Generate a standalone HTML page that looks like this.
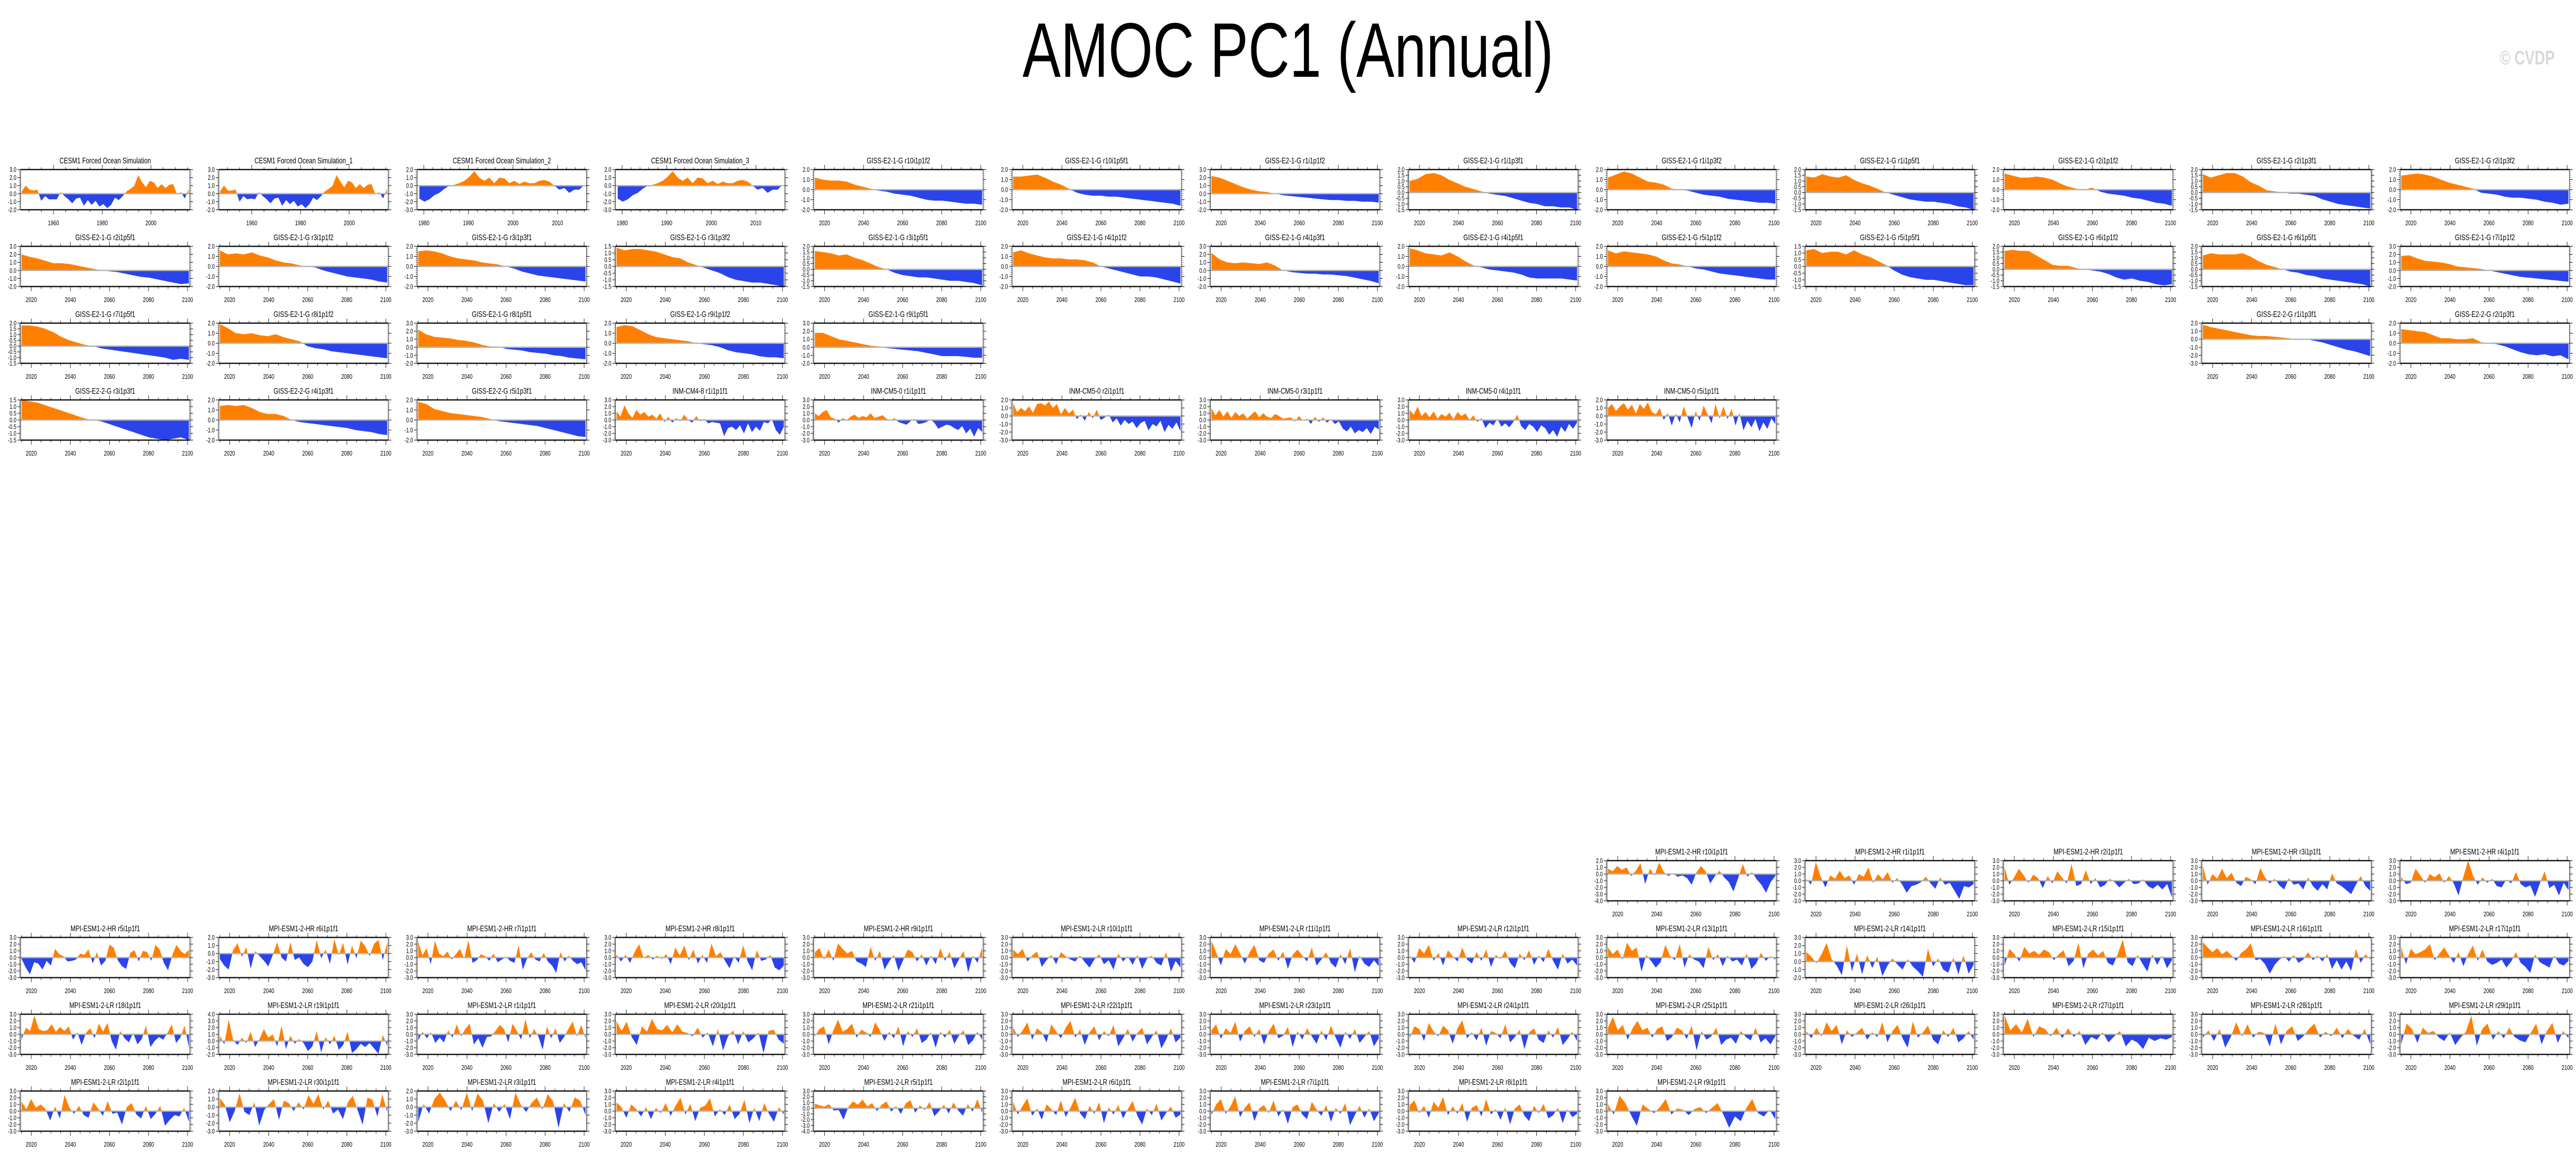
<!DOCTYPE html>
<html><head><meta charset="utf-8"><meta name="viewport" content="width=6755"><title>AMOC PC1 (Annual)</title>
<style>
html,body{margin:0;padding:0;background:#fff;overflow:hidden;}
body{font-family:"Liberation Sans",sans-serif;}
#frame{position:absolute;left:0;top:0;width:6755px;height:2247px;overflow:hidden;transform-origin:0 0;}
#main-title{position:absolute;left:0;width:6755px;top:22px;text-align:center;font-size:150px;line-height:150px;color:#000;margin:0;font-weight:normal;}
#credit{position:absolute;left:6555px;top:92px;width:190px;font-size:38px;font-weight:bold;color:#d8d8d8;white-space:nowrap;}
#chart{position:absolute;left:0;top:0;display:block;}
</style></head>
<body>
<div id="frame">
<h1 id="main-title">AMOC PC1 (Annual)</h1>
<div id="credit">© CVDP</div>
<svg id="chart" width="6755" height="2247" viewBox="0 0 6755 2247" overflow="hidden"></svg>
</div>
<script>
// ---- panel data ----
const titles = [
"CESM1 Forced Ocean Simulation","CESM1 Forced Ocean Simulation_1","CESM1 Forced Ocean Simulation_2","CESM1 Forced Ocean Simulation_3",
"GISS-E2-1-G r10i1p1f2","GISS-E2-1-G r10i1p5f1","GISS-E2-1-G r1i1p1f2","GISS-E2-1-G r1i1p3f1","GISS-E2-1-G r1i1p3f2","GISS-E2-1-G r1i1p5f1","GISS-E2-1-G r2i1p1f2","GISS-E2-1-G r2i1p3f1","GISS-E2-1-G r2i1p3f2",
"GISS-E2-1-G r2i1p5f1","GISS-E2-1-G r3i1p1f2","GISS-E2-1-G r3i1p3f1","GISS-E2-1-G r3i1p3f2","GISS-E2-1-G r3i1p5f1","GISS-E2-1-G r4i1p1f2","GISS-E2-1-G r4i1p3f1","GISS-E2-1-G r4i1p5f1","GISS-E2-1-G r5i1p1f2","GISS-E2-1-G r5i1p5f1","GISS-E2-1-G r6i1p1f2","GISS-E2-1-G r6i1p5f1","GISS-E2-1-G r7i1p1f2",
"GISS-E2-1-G r7i1p5f1","GISS-E2-1-G r8i1p1f2","GISS-E2-1-G r8i1p5f1","GISS-E2-1-G r9i1p1f2","GISS-E2-1-G r9i1p5f1","GISS-E2-2-G r1i1p3f1","GISS-E2-2-G r2i1p3f1",
"GISS-E2-2-G r3i1p3f1","GISS-E2-2-G r4i1p3f1","GISS-E2-2-G r5i1p3f1","INM-CM4-8 r1i1p1f1","INM-CM5-0 r1i1p1f1","INM-CM5-0 r2i1p1f1","INM-CM5-0 r3i1p1f1","INM-CM5-0 r4i1p1f1","INM-CM5-0 r5i1p1f1",
"MPI-ESM1-2-HR r10i1p1f1","MPI-ESM1-2-HR r1i1p1f1","MPI-ESM1-2-HR r2i1p1f1","MPI-ESM1-2-HR r3i1p1f1","MPI-ESM1-2-HR r4i1p1f1",
"MPI-ESM1-2-HR r5i1p1f1","MPI-ESM1-2-HR r6i1p1f1","MPI-ESM1-2-HR r7i1p1f1","MPI-ESM1-2-HR r8i1p1f1","MPI-ESM1-2-HR r9i1p1f1","MPI-ESM1-2-LR r10i1p1f1","MPI-ESM1-2-LR r11i1p1f1","MPI-ESM1-2-LR r12i1p1f1","MPI-ESM1-2-LR r13i1p1f1","MPI-ESM1-2-LR r14i1p1f1","MPI-ESM1-2-LR r15i1p1f1","MPI-ESM1-2-LR r16i1p1f1","MPI-ESM1-2-LR r17i1p1f1",
"MPI-ESM1-2-LR r18i1p1f1","MPI-ESM1-2-LR r19i1p1f1","MPI-ESM1-2-LR r1i1p1f1","MPI-ESM1-2-LR r20i1p1f1","MPI-ESM1-2-LR r21i1p1f1","MPI-ESM1-2-LR r22i1p1f1","MPI-ESM1-2-LR r23i1p1f1","MPI-ESM1-2-LR r24i1p1f1","MPI-ESM1-2-LR r25i1p1f1","MPI-ESM1-2-LR r26i1p1f1","MPI-ESM1-2-LR r27i1p1f1","MPI-ESM1-2-LR r28i1p1f1","MPI-ESM1-2-LR r29i1p1f1",
"MPI-ESM1-2-LR r2i1p1f1","MPI-ESM1-2-LR r30i1p1f1","MPI-ESM1-2-LR r3i1p1f1","MPI-ESM1-2-LR r4i1p1f1","MPI-ESM1-2-LR r5i1p1f1","MPI-ESM1-2-LR r6i1p1f1","MPI-ESM1-2-LR r7i1p1f1","MPI-ESM1-2-LR r8i1p1f1","MPI-ESM1-2-LR r9i1p1f1"
];
const gridCols = [0,1,2,3,4,5,6,7,8,9,10,11,12, 0,1,2,3,4,5,6,7,8,9,10,11,12, 0,1,2,3,4,11,12, 0,1,2,3,4,5,6,7,8,
 8,9,10,11,12, 0,1,2,3,4,5,6,7,8,9,10,11,12, 0,1,2,3,4,5,6,7,8,9,10,11,12, 0,1,2,3,4,5,6,7,8];
const gridRows = [0,0,0,0,0,0,0,0,0,0,0,0,0, 1,1,1,1,1,1,1,1,1,1,1,1,1, 2,2,2,2,2,2,2, 3,3,3,3,3,3,3,3,3,
 9,9,9,9,9, 10,10,10,10,10,10,10,10,10,10,10,10,10, 11,11,11,11,11,11,11,11,11,11,11,11,11, 12,12,12,12,12,12,12,12,12];
const yMin = [-2,-2,-3,-3, -2,-2,-2,-1.5,-2,-1.5,-2,-1.5,-2, -2,-2,-2,-1.5,-1.5,-2,-2,-2,-2,-1.5,-1.5,-1.5,-2, -1.5,-2,-2,-2,-2,-3,-2, -1.5,-2,-2,-3,-3,-3,-3,-3,-3,
 -4,-3,-3,-3,-3, -3,-3,-3,-3,-3,-3,-3,-3,-3,-2,-3,-3,-3, -3,-2,-3,-3,-3,-3,-3,-3,-3,-3,-3,-3,-3, -3,-3,-3,-3,-4,-3,-3,-3,-3];
const yMax = [3,3,2,2, 2,2,3,2,2,2,2,2,2, 3,2,2,1.5,2,2,3,2,2,1.5,2,2,3, 2,2,3,2,3,2,2, 1.5,2,2,3,3,2,3,3,2,
 2,3,3,3,3, 3,2,3,3,3,3,3,3,3,3,3,3,3, 3,4,3,3,3,3,3,3,3,3,3,3,3, 3,2,2,3,3,3,3,3,3];
const yStep = [1,1,1,1, 1,1,1,0.5,1,0.5,1,0.5,1, 1,1,1,0.5,0.5,1,1,1,1,0.5,0.5,0.5,1, 0.5,1,1,1,1,1,1, 0.5,1,1,1,1,1,1,1,1,
 1,1,1,1,1, 1,1,1,1,1,1,1,1,1,1,1,1,1, 1,1,1,1,1,1,1,1,1,1,1,1,1, 1,1,1,1,1,1,1,1,1];
const startYear = [1946.5,1946.5,1978.5,1978.5];
const endYear = [2016,2016,2016.5,2016.5];
const defaultStart = 2014.5, defaultEnd = 2101.2;
const yearTicksCESM = [1960,1980,2000];
const yearTicksCESM2 = [1980,1990,2000,2010];
const yearTicksScen = [2020,2040,2060,2080,2100];
const values = [
[0.3,1.0,0.5,0.4,0.5,-0.9,-0.3,-0.7,-0.7,-0.7,0.2,-0.3,-0.7,-1.2,-0.6,-0.5,-1.5,-0.8,-1.4,-0.9,-1.6,-1.3,-1.8,-1.4,-0.5,-0.8,-0.3,0.3,0.6,1.0,2.3,1.4,0.8,1.6,1.4,0.7,1.2,0.7,1.1,1.2,-0.1,0.2,-0.6,0.6],
[0.3,1.0,0.4,0.4,0.5,-1.0,-0.3,-0.7,-0.6,-0.7,0.2,-0.3,-0.7,-1.2,-0.6,-0.5,-1.5,-0.8,-1.3,-0.9,-1.6,-1.3,-1.8,-1.3,-0.5,-0.8,-0.3,0.3,0.6,1.0,2.3,1.5,0.8,1.6,1.4,0.7,1.2,0.7,1.1,1.2,-0.1,0.2,-0.6,0.6],
[-1.6,-2.0,-1.7,-1.2,-0.9,-0.4,0.0,0.1,0.3,0.6,1.1,1.8,1.0,0.6,1.0,0.3,1.0,0.9,0.3,0.6,0.2,0.5,0.3,0.3,0.6,0.7,0.5,0.0,-0.5,-0.3,-0.9,-0.5,-0.5,0.1],
[-1.6,-2.0,-1.7,-1.2,-0.9,-0.4,0.0,0.1,0.3,0.6,1.1,1.8,1.0,0.6,1.0,0.3,1.0,0.9,0.3,0.6,0.2,0.5,0.3,0.3,0.6,0.7,0.5,0.0,-0.5,-0.3,-0.9,-0.5,-0.5,0.1],
[1.2,1.0,0.9,0.9,0.8,0.5,0.3,0.1,-0.1,-0.2,-0.4,-0.5,-0.6,-0.8,-1.0,-1.1,-1.1,-1.2,-1.3,-1.4,-1.4,-1.5],
[1.3,1.3,1.4,1.5,1.2,0.8,0.5,0.1,-0.3,-0.5,-0.6,-0.6,-0.7,-0.7,-0.8,-0.9,-1.0,-1.1,-1.2,-1.3,-1.4,-1.6],
[2.2,2.0,1.6,1.2,0.8,0.5,0.3,0.2,0.0,-0.2,-0.3,-0.4,-0.5,-0.6,-0.7,-0.8,-0.8,-0.9,-0.9,-1.0,-1.0,-1.1],
[1.0,1.2,1.6,1.7,1.5,1.1,0.8,0.5,0.3,0.1,-0.1,-0.2,-0.3,-0.5,-0.7,-0.9,-1.0,-1.2,-1.2,-1.3,-1.3,-1.5],
[1.2,1.5,1.8,1.6,1.2,0.8,0.7,0.5,0.1,0.0,-0.1,-0.3,-0.5,-0.6,-0.7,-0.9,-1.0,-1.1,-1.2,-1.3,-1.3,-1.4],
[1.4,1.3,1.6,1.4,1.3,1.5,1.1,0.8,0.6,0.3,0.0,-0.2,-0.4,-0.6,-0.7,-0.8,-0.8,-0.9,-1.0,-1.2,-1.3,-1.5],
[1.6,1.4,1.2,1.2,1.3,1.2,1.0,0.6,0.3,0.1,0.0,0.2,-0.2,-0.4,-0.5,-0.6,-0.8,-0.9,-1.1,-1.3,-1.4,-1.6],
[1.6,1.3,1.5,1.7,1.7,1.4,0.9,0.6,0.2,0.1,0.0,-0.1,-0.1,-0.2,-0.3,-0.6,-0.8,-1.0,-1.1,-1.2,-1.3,-1.4],
[1.4,1.5,1.6,1.5,1.3,1.0,0.7,0.5,0.3,0.1,-0.3,-0.4,-0.5,-0.7,-0.8,-0.8,-0.9,-1.0,-1.2,-1.3,-1.5,-1.4],
[2.0,1.7,1.5,1.2,0.9,0.9,0.8,0.6,0.4,0.2,0.0,-0.1,-0.2,-0.4,-0.6,-0.8,-0.9,-1.1,-1.3,-1.5,-1.7,-1.6],
[1.6,1.2,1.3,1.2,1.4,1.1,0.9,0.6,0.4,0.3,0.1,0.0,-0.1,-0.4,-0.6,-0.8,-1.0,-1.1,-1.2,-1.3,-1.5,-1.6],
[1.5,1.6,1.5,1.3,1.0,0.8,0.7,0.6,0.4,0.3,0.2,0.0,-0.2,-0.5,-0.7,-0.9,-1.0,-1.1,-1.2,-1.3,-1.4,-1.5],
[1.4,1.2,1.3,1.3,1.2,1.1,0.9,0.7,0.6,0.3,0.1,-0.1,-0.3,-0.5,-0.8,-1.0,-1.1,-1.2,-1.2,-1.3,-1.4,-1.5],
[1.6,1.5,1.4,1.2,1.3,1.0,0.8,0.5,0.2,0.0,-0.3,-0.5,-0.6,-0.7,-0.7,-0.8,-0.9,-1.0,-1.0,-1.1,-1.2,-1.4],
[1.4,1.6,1.3,1.1,0.9,0.8,0.8,0.7,0.7,0.6,0.4,0.0,-0.2,-0.4,-0.6,-0.8,-1.0,-1.0,-1.1,-1.3,-1.5,-1.7],
[2.2,1.4,1.0,0.9,1.0,0.9,0.8,1.0,0.6,0.0,-0.2,-0.3,-0.4,-0.4,-0.5,-0.5,-0.6,-0.7,-0.9,-1.1,-1.3,-1.6],
[1.8,1.6,1.3,1.2,1.1,1.4,1.0,0.5,0.1,-0.1,-0.3,-0.4,-0.5,-0.6,-0.8,-1.1,-1.2,-1.2,-1.2,-1.2,-1.3,-1.4],
[1.6,1.3,1.5,1.4,1.3,1.2,1.0,0.6,0.3,0.2,0.0,-0.2,-0.3,-0.5,-0.7,-0.8,-0.9,-1.0,-1.1,-1.2,-1.3,-1.3],
[1.2,1.3,1.0,1.1,1.1,0.9,1.2,0.9,0.7,0.4,0.1,-0.3,-0.6,-0.8,-0.9,-1.0,-1.0,-1.1,-1.2,-1.3,-1.4,-1.4],
[1.6,1.7,1.6,1.6,1.2,0.8,0.4,0.3,0.3,0.1,0.0,-0.1,-0.2,-0.4,-0.7,-0.9,-0.8,-1.0,-1.1,-1.3,-1.4,-1.3],
[1.2,1.4,1.3,1.3,1.3,1.4,1.1,0.7,0.4,0.2,0.0,-0.2,-0.3,-0.5,-0.6,-0.8,-0.9,-1.0,-1.1,-1.2,-1.3,-1.5],
[1.8,1.9,1.5,1.2,1.1,1.0,0.8,0.5,0.4,0.3,0.2,0.0,-0.2,-0.4,-0.6,-0.8,-0.9,-1.0,-1.1,-1.2,-1.3,-1.4],
[1.8,1.8,1.7,1.5,1.2,0.8,0.5,0.3,0.1,0.0,-0.2,-0.3,-0.4,-0.5,-0.6,-0.7,-0.8,-0.9,-1.0,-1.2,-1.1,-1.2],
[1.9,1.5,1.0,0.9,1.0,0.8,0.7,0.9,0.6,0.4,0.2,-0.3,-0.5,-0.6,-0.8,-0.9,-1.0,-1.1,-1.2,-1.3,-1.4,-1.5],
[2.2,1.6,1.3,1.2,1.1,0.9,0.8,0.6,0.3,0.1,0.1,-0.2,-0.3,-0.4,-0.6,-0.7,-0.8,-1.0,-1.1,-1.3,-1.4,-1.5],
[1.6,1.8,1.7,1.3,0.9,0.6,0.5,0.4,0.3,0.2,0.0,-0.1,-0.2,-0.4,-0.7,-0.9,-1.0,-1.1,-1.3,-1.4,-1.4,-1.5],
[1.8,1.8,1.4,1.0,0.8,0.6,0.4,0.2,0.1,-0.1,-0.2,-0.3,-0.4,-0.5,-0.7,-0.9,-1.1,-1.1,-1.1,-1.2,-1.3,-1.3],
[1.8,1.5,1.3,1.1,0.9,0.7,0.5,0.4,0.4,0.3,0.2,0.1,-0.1,0.0,-0.2,-0.4,-0.7,-1.0,-1.3,-1.5,-1.8,-2.1],
[1.4,1.3,1.2,1.1,0.8,0.5,0.5,0.4,0.4,0.5,0.1,0.0,-0.1,-0.3,-0.6,-0.9,-1.1,-1.2,-1.1,-1.3,-1.2,-1.6],
[1.5,1.4,1.3,1.1,0.9,0.7,0.5,0.3,0.1,0.0,-0.1,-0.3,-0.5,-0.7,-0.9,-1.1,-1.3,-1.4,-1.5,-1.4,-1.3,-1.5],
[1.4,1.5,1.4,1.5,1.2,0.8,0.6,0.6,0.4,0.0,-0.2,-0.3,-0.4,-0.5,-0.6,-0.7,-0.8,-1.0,-1.1,-1.2,-1.4,-1.5],
[1.8,1.6,1.1,0.9,0.7,0.6,0.5,0.4,0.3,0.1,-0.1,-0.2,-0.3,-0.4,-0.5,-0.6,-0.8,-1.0,-1.2,-1.4,-1.6,-1.7],
[1.3,0.5,2.2,1.0,0.3,1.5,0.8,1.2,0.5,0.8,0.2,1.0,-0.3,0.5,-0.4,0.3,-0.2,0.8,0.0,-0.4,0.6,-0.2,0.2,-0.5,-0.3,-0.4,-0.5,-2.4,-1.2,-1.0,-1.5,-0.8,-2.0,-0.5,-1.8,-1.0,-1.6,-0.3,-0.5,0.1,-1.5,-2.2,-1.0],
[1.0,0.6,1.2,1.5,0.4,0.2,-0.4,0.3,0.0,0.5,0.8,0.3,0.6,0.4,1.0,0.3,0.5,0.7,0.2,-0.1,0.3,-0.3,-0.5,-0.7,-0.2,0.2,-0.6,-0.5,-0.3,0.1,-0.4,-1.3,-1.0,-0.7,-0.8,-1.2,-1.5,-0.9,-2.0,-1.3,-2.5,-1.2,-1.8],
[1.6,0.5,1.0,0.6,1.2,0.4,1.5,1.6,1.3,1.8,1.0,1.5,0.2,1.0,0.3,0.8,-0.4,0.2,-0.6,0.5,-0.3,0.8,-0.5,-0.2,0.2,-0.8,-0.3,-1.2,-0.5,-1.0,-0.7,-1.5,-0.9,-0.6,-1.8,-1.0,-1.3,-0.6,-2.0,-1.1,-1.6,-0.8,-1.9],
[1.8,0.7,1.5,0.5,1.3,0.3,1.2,0.6,1.0,0.2,0.8,1.3,0.4,1.0,0.5,0.3,0.9,0.6,0.2,0.3,0.4,-0.2,0.6,-0.1,0.2,-0.6,0.5,-0.3,0.4,-0.4,0.1,-0.6,-0.2,-1.3,-1.7,-1.0,-2.0,-1.5,-1.8,-1.2,-2.1,-1.0,-1.4],
[1.5,0.8,2.0,0.6,1.2,0.4,1.3,0.2,0.9,0.5,1.1,0.1,1.2,0.6,1.0,0.0,0.7,-0.3,0.3,-1.2,-0.4,-0.8,0.2,-1.0,-0.5,-1.1,-0.3,0.8,-0.9,-1.5,-0.6,-1.0,-1.8,-0.8,-1.2,-2.2,-1.5,-2.5,-1.0,-1.8,-0.6,-1.3,-0.4],
[1.0,1.5,0.6,1.2,1.6,0.8,1.4,0.3,1.5,0.9,1.7,0.5,0.2,1.0,-0.5,0.4,-1.2,0.3,-0.8,1.2,-0.2,-1.5,0.6,-0.6,1.3,0.2,-0.9,1.5,-0.3,1.2,-0.4,0.9,-1.2,0.4,-1.8,-0.6,-1.4,-0.4,-1.9,-0.8,-1.6,-0.3,-1.0],
[0.8,0.4,1.2,0.6,1.0,-0.3,0.5,1.6,-1.5,0.8,-0.2,1.7,0.3,-0.3,0.1,-0.4,-0.2,-0.6,-1.6,0.2,1.2,0.4,-1.4,-0.3,0.5,-0.5,-1.2,-2.6,-0.6,1.5,-0.4,0.3,-0.8,-1.6,-2.8,-1.2,-0.3],
[0.3,-0.6,2.8,0.6,-1.0,0.8,0.3,1.5,0.4,0.8,-0.6,1.0,0.6,2.0,-0.3,1.0,0.2,1.3,-0.3,0.4,-0.5,-1.8,-0.8,-0.6,-0.2,0.6,-0.4,-1.2,0.5,-0.6,-0.3,-1.5,-2.7,-0.8,-1.0,-0.5],
[2.0,-0.6,0.5,1.8,0.8,-0.3,0.9,0.4,-1.1,0.7,-0.4,1.4,0.5,-0.4,2.5,-0.8,-0.5,1.6,-0.5,0.4,-1.0,-0.6,0.3,-0.2,-1.0,-0.3,0.3,-0.5,-0.4,0.2,-0.8,-1.2,-0.6,-1.3,-0.5,-2.5],
[2.2,-0.6,1.0,0.3,1.8,0.4,1.2,-0.3,-0.8,0.6,0.2,-0.5,1.9,0.5,-0.4,0.3,-0.7,-1.3,0.4,-0.6,-0.4,-1.3,0.5,-0.8,-1.5,-0.5,-1.3,1.1,-0.4,-0.8,-1.4,-2.0,-0.6,0.7,-0.8,-1.5],
[0.6,-0.5,-0.3,1.8,0.8,-0.3,1.0,0.5,1.1,-0.3,0.7,-0.4,-2.2,0.6,3.0,0.8,-0.6,0.5,-0.3,0.3,-0.8,-1.0,0.2,-0.4,1.3,-0.5,-1.0,-0.7,-2.4,-0.4,1.4,-1.1,-0.6,-2.2,-0.3,-1.4],
[-0.2,-1.5,-2.5,-0.7,-0.9,-1.8,-0.5,-1.2,1.3,0.5,0.2,-0.6,-0.5,-0.3,0.6,0.4,1.2,-0.9,0.8,-1.2,-0.5,1.9,1.5,-0.4,-1.3,-1.7,0.7,1.1,-0.6,1.0,0.8,-0.5,1.9,1.2,-0.8,-1.9,0.3,1.9,1.0,0.5,1.2],
[-0.7,-1.5,-2.0,0.4,1.3,-0.4,0.8,-1.9,0.3,-0.3,-0.9,-1.6,-0.2,1.4,-0.5,-1.0,1.4,-0.8,-0.5,-1.3,-1.7,-1.0,1.7,-0.6,0.5,-1.3,1.8,-0.2,1.3,-1.4,1.0,-0.6,1.6,0.9,-0.3,1.2,1.7,-0.8,1.4],
[2.5,0.3,1.4,-1.0,2.5,0.6,0.2,0.9,-0.3,0.5,1.3,-0.2,2.6,-0.8,-0.4,0.5,0.2,-0.5,0.6,-0.7,-0.3,0.1,-0.5,-0.8,1.8,-1.8,-0.2,0.8,-0.3,-0.6,0.7,-0.6,-1.2,-2.3,0.8,-0.6,0.3,-0.5,-1.0,-0.7,-1.9],
[0.5,-0.6,0.4,-0.8,0.8,2.0,-0.1,0.4,-0.3,0.3,-0.2,0.5,-1.0,1.5,0.3,1.8,-0.4,1.2,-0.9,0.4,-0.8,2.1,0.2,0.8,-0.5,-1.6,0.2,-0.8,1.8,-0.6,-1.9,1.1,-0.5,-0.3,0.4,-1.5,-1.9,-1.2],
[0.8,1.4,-0.3,1.2,-0.5,2.1,1.3,0.6,1.0,-0.6,-0.9,-1.4,1.6,-0.5,1.0,-1.8,-0.6,0.4,-2.0,-0.4,1.2,0.8,-0.6,0.5,-1.2,0.3,-1.0,1.4,-0.5,0.8,-1.6,-0.3,1.0,-2.2,0.3,-0.8,1.5],
[1.2,0.5,1.3,-0.6,0.3,0.9,-1.4,-0.4,0.4,-1.0,0.8,0.2,-0.3,-0.6,0.3,-0.7,-1.5,-0.3,0.5,-1.0,-0.4,-1.8,0.6,-0.6,0.2,-1.1,0.4,-1.7,-0.2,0.3,-0.8,-1.2,0.8,-2.1,-0.5,-1.5],
[2.5,0.8,-1.2,1.3,0.5,2.0,0.6,-0.9,0.8,1.9,-0.4,-0.8,0.6,1.2,-0.5,0.9,-1.7,0.4,1.2,0.3,-0.6,1.5,-1.2,-0.3,0.8,-0.8,-1.5,0.5,-1.0,1.4,-2.2,0.3,-0.9,-1.4,-0.4,-1.3],
[0.3,-0.8,1.4,0.6,1.9,-0.5,0.7,-1.2,1.1,0.2,-0.6,1.5,-0.3,-0.9,0.8,-0.5,1.2,-1.4,0.4,-0.2,1.0,-0.8,-1.6,0.6,-0.4,1.1,-1.1,0.3,-0.7,1.3,-0.5,-1.8,0.6,-0.9,-0.3,-1.2],
[1.5,0.5,1.2,-0.3,2.2,1.0,1.5,-2.1,0.4,-0.5,-1.5,-0.7,1.9,0.2,-0.4,2.0,-1.5,0.5,-0.3,-0.6,-1.6,1.6,-0.4,0.5,-1.3,0.3,-0.6,-0.3,-1.2,0.6,-1.7,-0.9,0.7,-0.5,0.2,-0.3],
[1.2,0.6,-0.2,0.9,2.3,0.3,-0.5,-1.7,2.0,-1.2,1.0,-1.6,0.8,-0.8,0.6,-1.8,-0.5,0.4,-0.4,-1.0,0.3,-0.6,-1.2,-1.9,1.6,-0.6,0.4,-1.0,-1.4,0.5,-1.6,0.8,-1.5,-0.4],
[-1.2,1.3,0.5,-0.6,1.6,0.6,1.0,0.4,1.2,0.8,-0.4,0.5,1.1,-1.3,-0.5,2.2,-1.6,0.6,1.2,0.3,1.0,-0.8,-1.2,0.5,2.7,-0.7,-1.3,0.4,-0.9,-2.1,0.5,-1.1,0.3,-1.6,-0.4],
[2.3,1.5,0.8,1.4,0.5,1.0,0.3,-0.5,0.7,1.2,2.1,-0.4,-0.2,-1.0,-2.4,-1.1,-0.3,0.2,-0.6,0.4,-0.8,-0.3,0.8,-0.4,0.3,-0.6,0.5,-1.7,-0.4,-1.8,-0.6,-2.0,1.3,-0.8,0.5,-0.3],
[1.6,-1.0,1.3,0.5,0.8,1.2,2.0,-0.4,0.6,1.5,0.3,-0.8,0.8,-1.3,0.5,1.8,-0.5,1.2,-0.6,-1.1,-0.8,-0.3,-1.5,-0.6,0.8,-0.8,-1.4,-2.3,0.5,-0.7,-1.1,-1.5,0.3,-0.9,-1.2,-0.5],
[-0.8,1.0,0.5,2.8,0.8,0.5,0.6,1.5,0.4,1.1,0.5,1.2,-0.8,0.3,-1.6,0.2,0.9,-0.6,1.6,0.4,1.7,-1.0,-2.3,0.5,-0.6,-1.2,0.2,-1.5,-0.7,1.3,-1.9,-1.0,-0.4,-0.8,0.2,1.5,-1.3,-0.5,1.3,-2.0],
[0.8,-0.5,3.2,0.2,-0.6,0.5,-0.3,1.4,-0.9,0.3,1.8,0.5,1.0,-0.8,2.3,-1.2,0.8,-0.4,0.3,-0.3,-1.5,-0.8,1.5,-1.7,0.6,-0.5,0.8,-1.3,-0.6,1.4,-1.8,-1.2,-0.4,-0.9,-0.3,-1.1,-1.9,0.9,-0.7],
[-0.9,0.4,-0.6,0.3,-1.3,-0.5,-1.2,0.6,-0.5,1.5,-0.3,0.8,1.6,-1.5,-0.6,-2.0,-0.4,-0.3,0.5,1.4,0.8,-1.2,1.6,0.5,-0.8,2.3,-0.6,0.8,-0.3,-2.3,1.2,-0.6,0.9,-1.3,-0.4,0.8,1.9,-0.3,1.4,-0.6],
[2.0,0.5,1.9,-0.4,-1.6,1.2,0.4,2.3,0.8,0.6,1.4,0.3,1.5,0.4,0.2,-0.3,1.0,-0.5,0.3,-1.8,0.8,-2.4,-0.3,0.6,-1.5,0.5,-1.2,-0.6,0.3,-2.8,0.5,0.7,-0.8,-1.4],
[-0.3,0.8,1.2,-1.5,0.6,2.2,0.4,0.8,1.6,-0.5,0.7,0.3,-0.4,1.8,0.6,-1.0,0.4,-0.6,1.2,-1.8,0.5,-0.4,0.9,-1.3,-0.8,0.3,-2.0,0.4,-0.5,0.7,-1.4,-0.2,0.6,-1.6,-0.9,0.4,-0.8],
[1.1,-0.4,0.6,1.8,-0.8,0.9,0.3,-1.2,1.5,0.4,-0.6,1.0,2.0,-0.5,0.7,-1.6,0.3,1.2,-0.9,0.5,-0.3,1.4,-1.8,-0.6,0.8,-1.1,0.2,1.0,-1.5,-0.4,0.6,-2.1,-0.8,0.9,-1.2,-0.5],
[0.6,1.5,-0.7,0.9,0.2,1.9,-1.1,0.5,1.2,-0.4,0.8,-1.5,0.4,1.6,-0.6,-0.2,1.1,-1.9,0.5,-0.8,0.9,-0.3,-1.4,0.6,-0.9,1.3,-0.5,-2.0,0.4,-0.7,0.8,-1.3,-0.4,0.5,-1.8,-0.6],
[-0.5,1.2,0.8,-1.0,1.7,0.4,-0.3,1.3,0.6,-1.4,0.9,2.1,-0.6,0.3,-0.9,1.0,-1.7,0.5,0.2,-0.6,1.5,-1.2,-0.4,0.7,-2.2,0.3,0.9,-0.8,-1.3,0.6,-0.5,1.1,-1.6,-0.7,0.4,-1.0],
[1.0,2.6,0.6,1.4,-0.8,0.9,2.0,0.6,1.0,-0.5,0.8,1.2,-1.0,-0.4,1.0,0.6,-0.7,1.3,-2.4,0.5,-0.8,-0.3,1.0,-1.6,-0.8,-0.5,-1.4,0.5,-0.4,-0.9,1.0,-1.2,-0.6,-1.5,-0.3],
[0.5,-0.6,1.0,-0.3,1.8,0.5,1.4,-1.5,0.6,-0.4,0.3,1.0,-0.8,0.3,-0.4,1.8,-1.2,0.5,1.4,-0.6,-2.0,1.9,-0.5,0.3,1.3,-0.8,-1.5,0.6,-0.4,1.0,-1.2,-0.6,0.5,-0.8],
[2.8,0.6,1.5,0.3,2.3,-0.4,1.2,0.8,-0.3,1.0,-0.6,0.9,-0.4,0.5,-1.6,-0.4,-0.8,0.3,-1.2,-0.3,0.5,-1.8,-0.8,-1.2,-2.2,-0.5,-1.0,-0.6,-0.8,-0.4],
[-0.5,0.6,-1.0,0.8,-2.0,-0.4,1.8,-0.3,1.5,-0.5,0.4,0.2,-1.8,1.6,-1.5,0.5,1.2,-1.0,-0.3,0.8,1.6,-0.5,0.4,-0.3,1.0,-0.6,0.8,-0.2,-0.8,0.8,-1.5],
[-1.5,1.6,0.8,-1.3,1.0,0.2,0.5,-0.5,-1.0,0.3,-1.6,-0.5,0.4,2.8,-1.7,0.8,1.6,-0.8,0.5,-0.6,1.0,-0.4,-0.9,-1.2,0.2,1.6,-1.5,0.5,1.7,-1.3,0.5,-0.6],
[1.4,0.3,1.8,0.5,1.0,0.3,-1.4,0.7,-1.1,2.4,0.5,-0.4,0.8,-0.6,-1.0,1.3,0.4,-0.7,1.5,-0.4,-0.2,-2.0,0.6,1.2,-0.5,-1.1,0.8,-1.2,-0.4,0.8,-2.2,-1.3,-0.6,-0.8,0.5,-1.6],
[1.1,0.3,-1.9,-0.5,1.7,-0.6,-1.0,0.6,-2.3,-0.4,0.4,1.0,-1.6,0.8,0.5,-0.5,0.6,-0.3,1.5,0.4,1.6,-0.3,0.8,-0.8,-0.3,-1.5,0.6,1.4,-0.4,-2.2,1.2,0.9,-1.2,1.6,-0.6],
[-1.9,0.4,-0.8,1.0,1.8,0.8,-0.5,0.8,-0.4,1.8,-0.5,1.7,0.8,-2.0,0.5,-0.6,0.4,-1.5,1.8,0.3,-0.6,0.5,1.2,-0.3,1.6,0.7,-2.6,0.5,-0.6,1.2,0.8,-1.0],
[1.3,0.6,-1.0,1.0,0.3,-0.8,0.6,-1.2,0.5,-0.3,1.2,-0.7,0.8,2.0,-0.5,1.1,-1.5,0.5,0.8,1.9,-0.8,0.3,-0.6,1.0,-1.2,-0.4,1.7,-1.8,0.5,-1.5,1.2,-0.4,-1.6,0.6,-0.5],
[0.8,0.5,0.3,0.7,-0.4,-0.3,-2.0,0.2,1.2,0.6,1.5,0.3,0.9,-0.5,0.6,1.2,-0.6,0.4,-1.0,0.8,1.4,-0.8,0.5,-0.3,1.1,-1.4,-0.5,0.6,-0.9,1.0,-0.4,-1.3,0.7,-0.6,1.6,-0.8],
[1.4,-0.5,0.8,1.9,-0.7,0.4,-1.3,1.0,0.3,-0.6,1.6,-0.9,0.5,2.0,-0.3,-1.2,0.8,-0.4,1.3,-1.8,0.6,-0.5,0.9,-1.1,0.3,1.5,-0.7,-2.0,0.4,-0.6,1.1,-1.4,-0.3,0.7,-1.0,-0.5],
[-0.6,1.0,1.8,-0.4,0.7,2.2,-0.9,0.5,1.3,-1.5,0.4,0.9,-0.3,1.6,-0.8,0.3,-1.9,0.6,1.0,-0.5,-1.2,1.4,0.2,-0.7,0.9,-1.6,0.5,-0.4,1.2,-2.1,-0.6,0.8,-1.0,0.4,-1.5,-0.3],
[0.9,1.6,-0.3,0.8,-1.0,1.4,0.5,2.1,-0.6,0.7,-0.4,1.2,-1.6,0.5,0.9,-0.8,1.8,-0.5,0.3,-1.3,0.6,-2.0,0.4,1.0,-0.7,-1.5,0.8,-0.3,1.1,-1.1,-0.6,0.5,-1.8,0.3,-0.9,-0.4],
[1.0,-0.5,2.3,1.2,-0.6,-2.2,1.0,0.3,-0.3,0.6,1.8,-0.5,0.4,0.2,-0.6,0.3,0.6,-0.3,0.5,1.2,-0.5,-2.5,-0.8,-1.5,0.5,1.8,-0.3,-0.8,0.2,-1.2]
];

// ---- layout (not data) ----
const NS = "http://www.w3.org/2000/svg";
const svg = document.getElementById('chart');
const COL_PITCH = 520, ROW_PITCH = 149, LEFT0 = 54, TOP0 = 329, PW = 444, PH = 78;
const ORANGE = '#ff8000', BLUE = '#2b44ea';

function mk(tag, attrs, parent){
  const e = document.createElementNS(NS, tag);
  for (const k in attrs) e.setAttribute(k, attrs[k]);
  (parent || svg).appendChild(e);
  return e;
}
function fmt(v){ return v.toFixed(1); }

const defs = mk('defs', {});

titles.forEach((title, i) => {
  const L = LEFT0 + gridCols[i] * COL_PITCH;
  const T = TOP0 + gridRows[i] * ROW_PITCH;
  const R = L + PW, B = T + PH;
  const x0 = i < startYear.length ? startYear[i] : defaultStart;
  const x1 = i < endYear.length ? endYear[i] : defaultEnd;
  const ymin = yMin[i], ymax = yMax[i], step = yStep[i];
  const xs = yr => L + (yr - x0) / (x1 - x0) * PW;
  const ys = v => B - (v - ymin) / (ymax - ymin) * PH;
  const ticks = i < 2 ? yearTicksCESM : (i < 4 ? yearTicksCESM2 : yearTicksScen);
  const minorStep = (i >= 2 && i < 4) ? 2 : 5;

  const g = mk('g', {});
  
  

  const t = mk('text', {x: L + PW / 2, y: T - 12, 'text-anchor': 'middle', 'font-size': 16, 'font-family': 'Liberation Sans, sans-serif', fill: '#000'}, g);
  t.textContent = title;
  
  

  const vals = values[i];
  const n = vals.length;
  const yearAt = k => x0 + 0.5 + k * ((x1 - x0 - 1) / (n - 1));
  let pts = xs(yearAt(0)).toFixed(1) + ',' + ys(0).toFixed(1) + ' ';
  vals.forEach((v, k) => { pts += xs(yearAt(k)).toFixed(1) + ',' + ys(v).toFixed(1) + ' '; });
  pts += xs(yearAt(n - 1)).toFixed(1) + ',' + ys(0).toFixed(1);
  const cpA = mk('clipPath', {id: 'ca' + i}, defs);
  mk('rect', {x: L, y: T, width: PW, height: ys(0) - T}, cpA);
  const cpB = mk('clipPath', {id: 'cb' + i}, defs);
  mk('rect', {x: L, y: ys(0), width: PW, height: B - ys(0)}, cpB);
  const pa = mk('polygon', {points: pts, fill: ORANGE, 'clip-path': 'url(#ca' + i + ')'}, g);
  
  
  const pb = mk('polygon', {points: pts, fill: BLUE, 'clip-path': 'url(#cb' + i + ')'}, g);
  
  

  const zl = mk('line', {x1: L, x2: R, y1: ys(0), y2: ys(0), stroke: '#b4b4b4', 'stroke-width': 2.5}, g);
  
  

  mk('line', {x1: L, x2: R, y1: T, y2: T, stroke: '#111', 'stroke-width': 2.5}, g);
  mk('line', {x1: L, x2: R, y1: B, y2: B, stroke: '#111', 'stroke-width': 2.5}, g);
  mk('line', {x1: L, x2: L, y1: T, y2: B, stroke: '#111', 'stroke-width': 1.2}, g);
  mk('line', {x1: R, x2: R, y1: T, y2: B, stroke: '#111', 'stroke-width': 1.2}, g);

  for (let yr = Math.ceil(x0 / minorStep) * minorStep; yr <= x1; yr += minorStep) {
    const major = ticks.indexOf(yr) >= 0;
    const X = xs(yr), len = major ? 9 : 4.5;
    mk('line', {x1: X, x2: X, y1: T, y2: T - len, stroke: '#111', 'stroke-width': 1.2}, g);
    mk('line', {x1: X, x2: X, y1: B, y2: B + len, stroke: '#111', 'stroke-width': 1.2}, g);
  }
  ticks.forEach(yr => {
    const lab = mk('text', {x: xs(yr), y: B + 30, 'text-anchor': 'middle', 'font-size': 13, 'font-family': 'Liberation Sans, sans-serif', fill: '#000'}, g);
    lab.textContent = String(yr);
    
    
  });

  const nSteps = Math.round((ymax - ymin) / step);
  for (let k = 0; k <= nSteps; k++) {
    const v = ymin + k * step, Y = ys(v);
    mk('line', {x1: L, x2: L - 8, y1: Y, y2: Y, stroke: '#111', 'stroke-width': 1.2}, g);
    mk('line', {x1: R, x2: R + 8, y1: Y, y2: Y, stroke: '#111', 'stroke-width': 1.2}, g);
    const lab = mk('text', {x: L - 11, y: Y + 4.5, 'text-anchor': 'end', 'font-size': 13, 'font-family': 'Liberation Sans, sans-serif', fill: '#000'}, g);
    lab.textContent = fmt(v);
    
    
    if (k < nSteps) {
      for (let m = 1; m < 5; m++) {
        const Ym = ys(v + m * step / 5);
        mk('line', {x1: L, x2: L - 4, y1: Ym, y2: Ym, stroke: '#555', 'stroke-width': 1}, g);
        mk('line', {x1: R, x2: R + 4, y1: Ym, y2: Ym, stroke: '#777', 'stroke-width': 1}, g);
      }
    }
  }
});

// fit the 6755x2247 frame to the actual viewport
function fitFrame(){
  const frame = document.getElementById('frame');
  const vw = document.documentElement.clientWidth || window.innerWidth || 6755;
  const vh = document.documentElement.clientHeight || window.innerHeight || 2247;
  const sx = vw / 6755, sy = vh / 2247;
  frame.style.transform = (Math.abs(sx - 1) < 0.001 && Math.abs(sy - 1) < 0.001) ? 'none' : 'scale(' + sx + ',' + sy + ')';
}
fitFrame();
window.addEventListener('resize', fitFrame);
</script>
</body></html>
